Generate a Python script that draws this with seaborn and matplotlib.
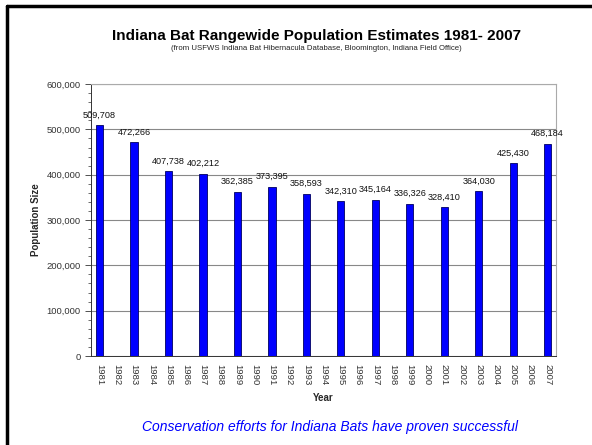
import matplotlib
matplotlib.use("Agg")
import matplotlib.pyplot as plt
import matplotlib.lines as mlines
import seaborn as sns
import numpy as np
import pandas as pd
from matplotlib.ticker import FuncFormatter, MultipleLocator

# Data (survey every two years)
years = [str(y) for y in range(1981, 2008)]
survey_years = ["1981", "1983", "1985", "1987", "1989", "1991", "1993", "1995",
                "1997", "1999", "2001", "2003", "2005", "2007"]
population = [509708, 472266, 407738, 402212, 362385, 373395, 358593, 342310,
              345164, 336326, 328410, 364030, 425430, 468184]

df = pd.DataFrame({"Year": survey_years, "Population": population})

sns.set_style("white")
plt.rcParams["font.family"] = ["Liberation Sans", "DejaVu Sans"]

fig = plt.figure(figsize=(5.92, 4.45), dpi=100)
ax = fig.add_axes([0.1537, 0.2, 0.786, 0.611])

sns.barplot(data=df, x="Year", y="Population", order=years, color="#0000ff",
            saturation=1, width=0.42, edgecolor="#000060", linewidth=0.6, ax=ax)

for yr, val in zip(survey_years, population):
    ax.annotate(f"{val:,}", (years.index(yr), val), xytext=(0, 4),
                textcoords="offset points", ha="center", va="bottom",
                fontsize=6.6, color="#111111")

ax.set_xlim(-0.5, len(years) - 0.5)
ax.set_ylim(0, 600000)
ax.yaxis.set_major_locator(MultipleLocator(100000))
ax.yaxis.set_minor_locator(MultipleLocator(20000))
ax.yaxis.set_major_formatter(FuncFormatter(lambda v, p: f"{int(v):,}"))
ax.grid(axis="y", which="major", color="#888888", linewidth=0.8)
ax.set_axisbelow(True)

ax.set_xticks(np.arange(len(years)))
ax.set_xticklabels(years, rotation=270, fontsize=6.8, color="#333333")
ax.tick_params(axis="x", which="major", length=0, pad=6)
ax.set_xticks(np.arange(len(years) + 1) - 0.5, minor=True)
ax.tick_params(axis="x", which="minor", direction="out", length=3, width=0.6,
               color="#333333")
ax.tick_params(axis="y", which="major", direction="out", length=4, width=0.6,
               labelsize=6.8, labelcolor="#333333", color="#333333", left=True)
ax.tick_params(axis="y", which="minor", direction="out", length=2, width=0.5,
               color="#333333", left=True)

ax.set_xlabel("Year", fontsize=7, fontweight="bold", labelpad=5)
ax.set_ylabel("Population Size", fontsize=7, fontweight="bold", labelpad=4)

for side in ["top", "right"]:
    ax.spines[side].set_color("#aaaaaa")
    ax.spines[side].set_linewidth(0.8)
for side in ["left", "bottom"]:
    ax.spines[side].set_color("#333333")
    ax.spines[side].set_linewidth(0.7)

fig.text(0.535, 0.918, "Indiana Bat Rangewide Population Estimates 1981- 2007",
         ha="center", va="center", fontsize=11, fontweight="bold", color="black")
fig.text(0.535, 0.891, "(from USFWS Indiana Bat Hibernacula Database, Bloomington, Indiana Field Office)",
         ha="center", va="center", fontsize=5.6, color="#222222")
fig.text(0.557, 0.04, "Conservation efforts for Indiana Bats have proven successful",
         ha="center", va="center", fontsize=10, style="italic", color="#0000ff")

# frame border (top and left visible)
fig.add_artist(mlines.Line2D([0.012, 1.0], [0.986, 0.986], color="black", linewidth=2.5,
                             transform=fig.transFigure))
fig.add_artist(mlines.Line2D([0.012, 0.012], [0.0, 0.986], color="black", linewidth=2.5,
                             transform=fig.transFigure))

fig.savefig("out.png", dpi=100)
